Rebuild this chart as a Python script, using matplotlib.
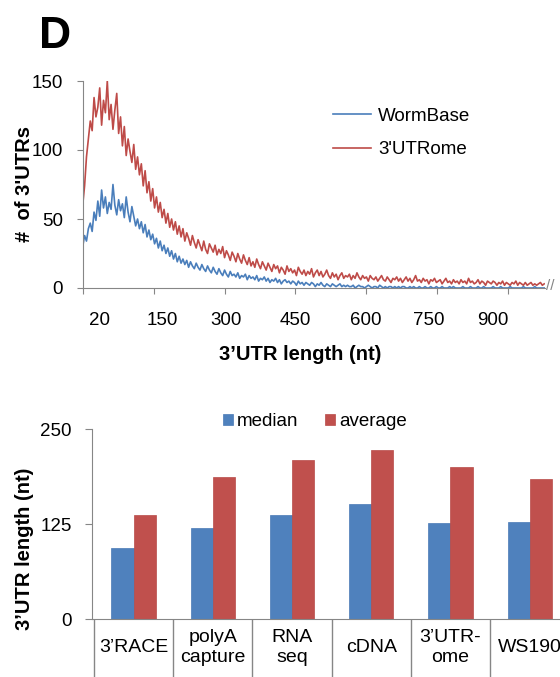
import matplotlib
matplotlib.use('Agg')
import matplotlib.pyplot as plt
import numpy as np

plt.rcParams['font.family'] = ['Liberation Sans', 'DejaVu Sans']

# --- panel D top: 3'UTR length distribution (every 4 nt) ---
utr_len = list(range(20, 1000, 4))
wormbase = [30, 38, 34, 43, 47, 41, 55, 49, 63, 52,
            71, 58, 66, 54, 62, 57, 75, 60, 53, 64,
            56, 61, 51, 66, 55, 48, 59, 52, 45, 50,
            43, 48, 40, 46, 37, 42, 35, 39, 32, 36,
            29, 34, 27, 31, 25, 29, 23, 27, 21, 25,
            19, 23, 18, 21, 17, 20, 15, 19, 16, 14,
            18, 15, 13, 17, 14, 12, 16, 13, 11, 15,
            12, 10, 14, 11, 9, 13, 10, 8, 12, 9,
            10, 8, 11, 7, 9, 8, 10, 6, 9, 7,
            8, 6, 9, 5, 7, 6, 8, 5, 7, 4,
            6, 5, 7, 4, 6, 3, 5, 6, 4, 5,
            3, 5, 4, 2, 5, 3, 4, 2, 4, 3,
            2, 4, 3, 1, 3, 2, 4, 2, 1, 3,
            2, 1, 3, 2, 1, 2, 3, 1, 2, 1,
            2, 1, 1, 2, 0, 1, 2, 1, 1, 0,
            1, 2, 1, 0, 1, 1, 0, 2, 1, 0,
            1, 0, 1, 1, 0, 1, 0, 1, 0, 1,
            1, 0, 0, 1, 0, 1, 0, 0, 1, 0,
            0, 1, 0, 0, 1, 0, 0, 1, 0, 0,
            1, 0, 0, 0, 1, 0, 1, 0, 0, 0,
            0, 1, 0, 0, 0, 1, 0, 0, 0, 1,
            0, 0, 1, 0, 0, 0, 0, 1, 0, 0,
            0, 1, 0, 0, 0, 0, 1, 0, 0, 0,
            0, 0, 0, 1, 0, 0, 0, 0, 0, 1,
            0, 0, 0, 0, 0]
utrome = [60, 74, 95, 108, 121, 114, 138, 124, 131, 145,
          118, 136, 127, 150, 122, 133, 115, 129, 141, 112,
          124, 103, 117, 96, 108, 99, 91, 104, 86, 95,
          82, 90, 74, 85, 69, 77, 63, 72, 58, 66,
          55, 62, 51, 57, 47, 54, 44, 50, 42, 48,
          39, 45, 37, 43, 34, 40, 36, 31, 38, 33,
          29, 35, 31, 27, 34, 28, 25, 32, 29, 26,
          31, 24, 28, 25, 30, 22, 27, 24, 20, 26,
          23, 19, 25, 21, 18, 24, 20, 17, 22, 16,
          19, 15, 21, 17, 14, 19, 16, 13, 18, 15,
          12, 17, 14, 16, 11, 15, 13, 10, 16, 12,
          14, 11, 13, 9, 15, 12, 10, 13, 9, 12,
          10, 14, 8, 11, 13, 9, 12, 8, 10, 13,
          9, 7, 11, 8, 10, 6, 9, 11, 7, 9,
          8, 10, 6, 9, 7, 11, 8, 6, 9, 7,
          8, 5, 9, 7, 6, 8, 5, 7, 9, 6,
          5, 8, 6, 4, 7, 6, 8, 5, 7, 4,
          6, 8, 5, 7, 4, 6, 9, 5, 6, 4,
          7, 5, 6, 3, 6, 5, 7, 4, 5, 6,
          3, 5, 7, 4, 5, 3, 6, 4, 5, 3,
          6, 4, 5, 3, 7, 4, 5, 3, 4, 6,
          3, 5, 4, 2, 5, 4, 3, 5, 4, 2,
          4, 3, 5, 2, 4, 3, 2, 4, 3, 5,
          2, 4, 3, 2, 4, 2, 3, 4, 2, 3,
          2, 3, 4, 2, 3]
len_tick_labels = ['20', '150', '300', '450', '600', '750', '900']

# --- panel D bottom: median / average 3'UTR length per source ---
sources = ['3’RACE', 'polyA\ncapture', 'RNA\nseq', 'cDNA', '3’UTR-\nome', 'WS190']
median_len = [93, 120, 137, 152, 126, 128]
average_len = [137, 187, 210, 223, 200, 184]

BLUE_LINE = '#4A7EBB'
RED_LINE = '#BE4B48'
BLUE = '#4F81BD'
RED = '#C0504D'
GREY = '#868686'

W, H = 560, 677
fig = plt.figure(figsize=(W / 100, H / 100), dpi=100)


def box(l, t, r, b):
    return [l / W, 1 - b / H, (r - l) / W, (b - t) / H]


# top plot
ax1 = fig.add_axes(box(82.7, 81, 545, 288))
ax1.plot(utr_len, wormbase, color=BLUE_LINE, lw=1.2, label='WormBase')
ax1.plot(utr_len, utrome, color=RED_LINE, lw=1.2, label="3'UTRome")
ax1.set_xlim(20, 20 + (545 - 82.7) * 150 / 70.93)
ax1.set_ylim(0, 150)
ax1.set_yticks([0, 50, 100, 150])
ax1.set_xticks([20 + 150 * k for k in range(7)])
ax1.set_xticklabels([])
lab_px = [99.3, 162.7, 226, 295, 365.7, 429, 493]
ax1.set_xticks([20 + (p - 82.7) * 150 / 70.93 for p in lab_px], minor=True)
ax1.set_xticklabels(len_tick_labels, minor=True)
for s in ['top', 'right']:
    ax1.spines[s].set_visible(False)
for s in ['left', 'bottom']:
    ax1.spines[s].set_color(GREY)
ax1.tick_params(axis='y', length=4.3, color=GREY, labelsize=13.5, pad=10)
ax1.tick_params(axis='x', which='major', length=4.3, color=GREY)
ax1.tick_params(axis='x', which='minor', length=0, labelsize=13.5, pad=17)
ax1.legend(loc='upper left', bbox_to_anchor=(0.542, 0.87), frameon=False,
           fontsize=13.5, handlelength=2.0, handletextpad=0.4,
           labelspacing=0.85, borderaxespad=0, borderpad=0)
fig.text(546 / W, 1 - 286 / H, '//', color=GREY, fontsize=11, ha='left', va='center')

fig.text(39 / W, 1 - 48 / H, 'D', fontsize=32, fontweight='bold', ha='left', va='baseline')
fig.text(25 / W, 1 - 184 / H, "#  of 3'UTRs", rotation=90, fontsize=14.5,
         fontweight='bold', ha='center', va='center')
fig.text(300 / W, 1 - 355 / H, '3’UTR length (nt)', fontsize=14.5,
         fontweight='bold', ha='center', va='center')

# bottom plot
ax2 = fig.add_axes(box(91.7, 429.3, 569.3, 619))
idx = np.arange(len(sources))
ax2.bar(idx - 0.14, median_len, 0.28, color=BLUE, edgecolor='#4A7AB5', lw=0.5, label='median')
ax2.bar(idx + 0.14, average_len, 0.28, color=RED, edgecolor='#B84B48', lw=0.5, label='average')
ax2.set_xlim(-0.529, 5.5)
ax2.set_ylim(0, 250)
ax2.set_yticks([0, 125, 250])
ax2.set_xticks([])
for s in ['top', 'right']:
    ax2.spines[s].set_visible(False)
for s in ['left', 'bottom']:
    ax2.spines[s].set_color(GREY)
ax2.tick_params(axis='y', length=4.8, color=GREY, labelsize=13.5, pad=9.6)
ax2.vlines([k - 0.5 for k in range(len(sources) + 1)], -110, 0, colors=GREY, lw=1, clip_on=False)
for k, lab in enumerate(sources):
    ax2.text(k, -38, lab, ha='center', va='center', fontsize=14, linespacing=1.25)
fig.legend(*ax2.get_legend_handles_labels(), loc='center left',
           bbox_to_anchor=(223 / W, 1 - 421.7 / H), ncol=2, frameon=False,
           fontsize=13.5, handlelength=0.55, handleheight=0.55,
           handletextpad=0.2, columnspacing=1.4, borderpad=0, borderaxespad=0)
fig.text(25 / W, 1 - 549 / H, '3’UTR length (nt)', rotation=90, fontsize=14.5,
         fontweight='bold', ha='center', va='center')

fig.savefig('out.png', dpi=100)
